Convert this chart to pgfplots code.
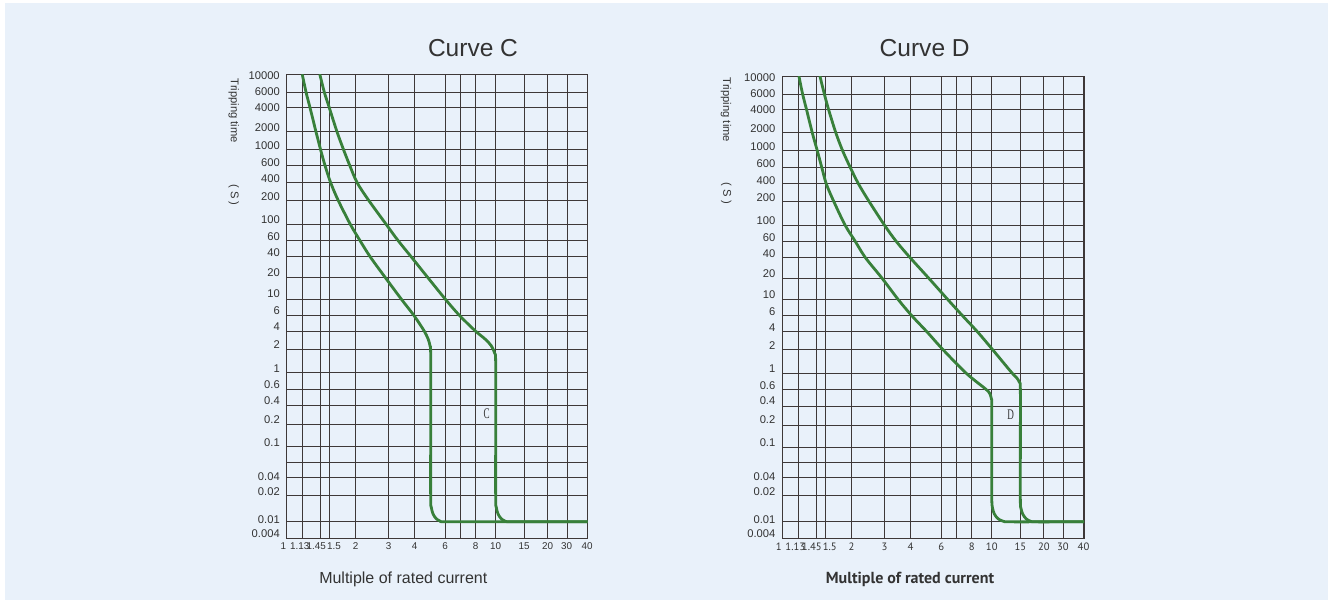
\documentclass[border=0pt]{standalone}
\usepackage{pgfplots}
\pgfplotsset{compat=1.18}
\usepackage{graphicx}
\usepackage{fontspec}
\setmainfont{Liberation Sans}
\newfontfamily\ptsans{PT Sans}
\newfontfamily\serifc{Liberation Serif}
\definecolor{bgc}{RGB}{233,241,250}
\definecolor{gridc}{RGB}{62,56,56}
\definecolor{curvec}{RGB}{56,128,58}
\definecolor{txtc}{RGB}{51,51,51}
\pgfplotsset{panel/.style={
  scale only axis, xmin=0, xmax=301, ymin=0, ymax=463,
  axis line style={draw=gridc, line width=0.8pt},
  xtick={0,13,29.5,47.4,69,102,128,158.5,189,209,237.5,261,280,300.5},
  xticklabels={\makebox[0pt][r]{1\kern0.5pt},1.13,1.45,1.5,2,3,4,6,8,10,15,20,30,40},
  ytick={462.5,446,430,410.5,392.8,375.7,359.2,341.7,318.3,301.3,285.8,265.7,244,227.3,211.3,193.3,169.8,153.3,137.8,118.5,95.5,62,46.7,18.2,4.3},
  yticklabels={10000,6000,4000,2000,1000,600,400,200,100,60,40,20,10,6,4,2,1,0.6,0.4,0.2,0.1,0.04,0.02,0.01,0.004},
  minor xtick={0,16,34,43,69,102,128,158.5,173.5,189,209,237.5,261,280.5,301},
  minor ytick={0,16.5,43,61,75.5,91.5,113.5,132.5,149,165.5,189,207,223,239,261,281.5,298,314,338,355.5,372,388.5,406.5,430,445.5,463},
  grid=minor, minor grid style={draw=gridc, line width=0.75pt},
  major tick length=0pt, minor tick length=0pt,
  yticklabel style={font=\fontsize{8.4}{9}\selectfont, text=txtc, anchor=east, inner sep=0pt, xshift=-5pt},
  xticklabel style={text=txtc, anchor=north, inner sep=0pt, yshift=-3pt},
  tick style={draw=none},
},
trip/.style={curvec, line width=2.1pt, line join=round, line cap=round, smooth, tension=0.5, mark=none}}
\begin{document}
\begin{tikzpicture}
\path[fill=white] (0pt,0pt) rectangle (999pt,-456.75pt);
\fill[bgc] (3.75pt,-2.25pt) rectangle (996pt,-450pt);

% Panel C
\begin{axis}[panel, at={(215.0pt,-403.7pt)}, anchor=south west,
  width=225.75pt, height=347.5pt,
  xticklabel style={font=\fontsize{7.4}{8}\selectfont}]
\addplot[trip] coordinates {
(15.7,463) (19.5,445.3) (23.5,429.7) (29.3,406.3) (34,388) (38.5,372) (44,355.3)
(51.5,337.7) (63.5,314) (73,298) (83.5,281.3) (98.5,260.7) (115,238.5)
(127,223) (137,208) (141.5,199) (143.4,192) (144,184) (144,110) (144,40)
(144.6,31) (146.3,24.5) (149.3,19.8) (153.3,17.2) (158,16.5) (200,16.5) (301,16.5)};
\addplot[trip] coordinates {
(33.3,463) (37.8,445.3) (42.8,429.7) (50.3,406.3) (57,388) (63.3,372) (70.5,355.3)
(82,337.7) (99.5,313.7) (111,298) (124.5,281.3) (141,260.7) (159,238.5)
(172.5,223) (188.3,207.5) (198.5,199) (204.5,192.5) (208,185) (209,176) (209,110) (209,40)
(209.6,31) (211.3,24.5) (214.3,19.8) (218.3,17.2) (223.5,16.5) (260,16.5) (301,16.5)};
\node[text=txtc, font=\serifc\fontsize{11}{11}\selectfont] at (axis cs:200,124.7) {\scalebox{0.62}[1]{C}};
\end{axis}

% Panel D
\begin{axis}[panel, at={(586.7pt,-403.7pt)}, anchor=south west,
  width=226.3pt, height=346.2pt,
  xticklabel style={font=\ptsans\fontsize{8}{9}\selectfont}]
\addplot[trip] coordinates {
(16.7,463) (20.3,445.5) (24.2,430) (30,406.5) (35,388.5) (39.4,372) (43.9,355.5)
(51.3,338) (62.7,314) (72.7,298) (82.9,281.5) (99.4,261) (116,239) (129.4,223)
(144.4,207) (160.5,189) (183.5,165.5) (202.5,150) (206.8,145.5) (208.6,140) (209,133)
(209,80) (209,40) (209.6,31) (211.5,24.5) (215,19.8) (220,17.2) (226.5,16.5) (265,16.5) (301,16.5)};
\addplot[trip] coordinates {
(37.7,463) (42,445.5) (46.2,430) (53.5,406.5) (60.3,388.5) (67.8,372) (76,355.5)
(86.5,338) (102,314) (113.5,298) (127.5,281.5) (146,261) (165.5,239)
(180,223) (194.8,207) (210,189) (229,166) (233.8,161) (236.5,156.5)
(237.5,150) (237.5,90) (237.5,38) (238.1,30) (240,24) (243.3,19.5) (247.3,17.2) (252,16.5) (280,16.5) (301,16.5)};
\node[text=txtc, font=\serifc\fontsize{11}{11}\selectfont] at (axis cs:227.7,124) {\scalebox{0.62}[1]{D}};
\end{axis}

\begin{scope}[x=0.75pt, y=-0.75pt]
\node[text=txtc, font=\fontsize{18.4}{20}\selectfont, inner sep=0pt] at (473,48.3) {Curve C};
\node[text=txtc, font=\fontsize{18.4}{20}\selectfont, inner sep=0pt] at (924.7,48.3) {Curve D};
\node[text=txtc, font=\fontsize{12}{14}\selectfont, inner sep=0pt, anchor=base] at (403.3,583.5) {Multiple of rated current};
\node[text=txtc, font=\ptsans\bfseries\fontsize{12}{14}\selectfont, inner sep=0pt, anchor=base] at (910,583.5) {Multiple of rated current};
\node[text=txtc, font=\fontsize{8.4}{9}\selectfont, inner sep=0pt, rotate=-90] at (233.8,110.8) {Tripping time};
\node[text=txtc, font=\fontsize{8.4}{9}\selectfont, inner sep=0pt, rotate=-90] at (233.7,195) {( S )};
\node[text=txtc, font=\fontsize{8.4}{9}\selectfont, inner sep=0pt, rotate=-90] at (726,110) {Tripping time};
\node[text=txtc, font=\fontsize{8.4}{9}\selectfont, inner sep=0pt, rotate=-90] at (726.3,193.3) {( S )};
\end{scope}
\end{tikzpicture}
\end{document}
